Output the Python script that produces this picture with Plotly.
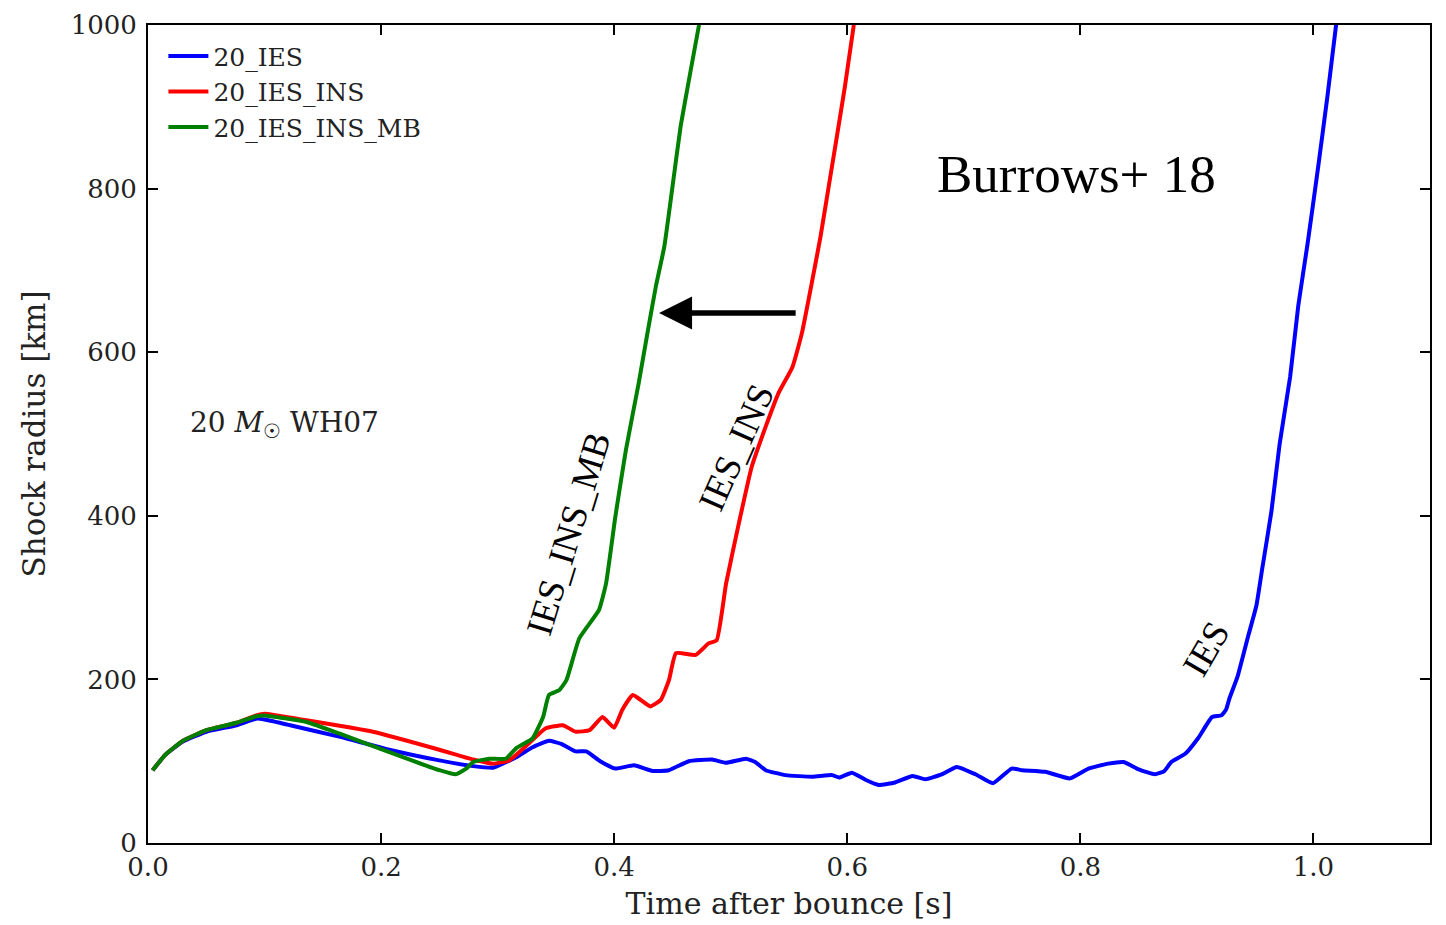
import plotly.graph_objects as go

# ---- data ----
t_ies = [0.004, 0.015, 0.03, 0.05, 0.076, 0.093, 0.1, 0.122, 0.164, 0.207, 0.25, 0.279, 0.296, 0.316,
         0.33, 0.344, 0.355, 0.367, 0.376, 0.388, 0.401, 0.417, 0.433, 0.447, 0.464, 0.484, 0.496, 0.513,
         0.521, 0.530, 0.547, 0.570, 0.587, 0.593, 0.604, 0.616, 0.627, 0.641, 0.656, 0.667, 0.681, 0.694,
         0.710, 0.725, 0.741, 0.750, 0.770, 0.791, 0.807, 0.824, 0.837, 0.850, 0.864, 0.872, 0.878, 0.890,
         0.901, 0.913, 0.921, 0.925, 0.928, 0.935, 0.944, 0.951, 0.956, 0.964, 0.971, 0.980, 0.987, 0.995,
         1.004, 1.012, 1.0195]
r_ies = [89, 108, 124, 136, 144, 152, 151, 144, 130, 114, 101, 94, 92, 105,
         117, 125, 121, 112, 112, 100, 91, 95, 88, 89, 100, 102, 98, 103,
         99, 89, 83, 81, 83, 80, 86, 77, 71, 74, 82, 78, 84, 93,
         84, 73, 91, 89, 87, 79, 91, 97, 99, 90, 84, 88, 99, 109,
         128, 154, 156, 163, 177, 204, 253, 290, 335, 406, 488, 570, 657, 733,
         826, 913, 1001]

t_ins = [0.004, 0.015, 0.03, 0.05, 0.076, 0.093, 0.1, 0.136, 0.193, 0.25, 0.279, 0.296, 0.31, 0.324,
         0.341, 0.356, 0.367, 0.379, 0.39, 0.40, 0.407, 0.416, 0.431, 0.44, 0.447, 0.453, 0.47, 0.481,
         0.488, 0.496, 0.507, 0.518, 0.530, 0.541, 0.553, 0.561, 0.570, 0.577, 0.584, 0.591, 0.598, 0.6056]
r_ins = [89, 108, 125, 138, 147, 156, 158, 150, 136, 114, 102, 97, 101, 118,
         140, 144, 136, 138, 154, 141, 163, 181, 167, 175, 199, 232, 230, 244,
         248, 317, 391, 460, 509, 550, 582, 623, 688, 741, 802, 863, 925, 1000]

t_mb = [0.004, 0.015, 0.03, 0.05, 0.076, 0.093, 0.1, 0.136, 0.164, 0.207, 0.25, 0.264, 0.273, 0.279,
        0.293, 0.307, 0.316, 0.33, 0.339, 0.344, 0.353, 0.359, 0.370, 0.387, 0.393, 0.401, 0.41, 0.421,
        0.4285, 0.4357, 0.443, 0.450, 0.457, 0.4657, 0.4728]
r_mb = [89, 108, 125, 138, 147, 155, 156, 148, 134, 111, 89, 84, 91, 99,
        103, 103, 116, 128, 154, 181, 187, 199, 250, 285, 317, 399, 480, 562,
        623, 680, 729, 802, 876, 945, 1000]

series_names = ["20_IES", "20_IES_INS", "20_IES_INS_MB"]
series_colors = ["#0000ff", "#ff0000", "#008000"]

x_ticks = [0.0, 0.2, 0.4, 0.6, 0.8, 1.0]
y_ticks = [0, 200, 400, 600, 800, 1000]

SERIF = "DejaVu Serif"
TIMES = "Liberation Serif"

fig = go.Figure()
for t, r, name, col in zip([t_ies, t_ins, t_mb], [r_ies, r_ins, r_mb], series_names, series_colors):
    fig.add_trace(go.Scatter(x=t, y=r, mode="lines", name=name,
                             line=dict(color=col, width=4, shape="spline", smoothing=0.4)))

axis_common = dict(showline=True, linecolor="black", linewidth=2, mirror="ticks",
                   ticks="inside", ticklen=10, tickwidth=1.5, tickcolor="black",
                   showgrid=False, zeroline=False, automargin=False,
                   tickfont=dict(family=SERIF, size=26, color="#222"))

fig.update_xaxes(range=[0, 1.1], tickvals=x_ticks, ticktext=["%.1f" % v for v in x_ticks],
                 title=dict(text="Time after bounce [s]", font=dict(family=SERIF, size=30, color="#222"),
                            standoff=12),
                 **axis_common)
fig.update_yaxes(range=[0, 1000], tickvals=y_ticks, ticktext=[str(v) for v in y_ticks],
                 ticklabelstandoff=4,
                 title=dict(text="Shock radius [km]", font=dict(family=SERIF, size=31, color="#222"),
                            standoff=16),
                 **axis_common)

# annotations
fig.add_annotation(x=0.797, y=818, text="Burrows+ 18", showarrow=False,
                   font=dict(family=TIMES, size=53, color="black"))
fig.add_annotation(x=0.117, y=512, text="20 <i>M</i><sub>☉</sub> WH07", showarrow=False,
                   font=dict(family=SERIF, size=28, color="#222"))
fig.add_annotation(x=0.361, y=378, text="IES_INS_MB", showarrow=False, textangle=-73,
                   font=dict(family=TIMES, size=37, color="black"))
fig.add_annotation(x=0.505, y=483, text="IES_INS", showarrow=False, textangle=-66,
                   font=dict(family=TIMES, size=37, color="black"))
fig.add_annotation(x=0.908, y=238, text="IES", showarrow=False, textangle=-60,
                   font=dict(family=TIMES, size=37, color="black"))
# arrow
fig.add_annotation(x=0.4385, y=648, ax=0.557, ay=648, xref="x", yref="y", axref="x", ayref="y",
                   text="", showarrow=True, arrowhead=2, arrowsize=1.2, arrowwidth=5.5,
                   arrowcolor="black")

fig.update_layout(
    width=1446, height=925,
    margin=dict(l=140, r=24, t=17, b=90, autoexpand=False),
    plot_bgcolor="white", paper_bgcolor="white",
    legend=dict(x=0.012, y=0.99, xanchor="left", yanchor="top",
                bgcolor="rgba(0,0,0,0)", borderwidth=0,
                font=dict(family=SERIF, size=25, color="#222"),
                tracegroupgap=0, itemwidth=40),
)

fig.write_html("out.html")
